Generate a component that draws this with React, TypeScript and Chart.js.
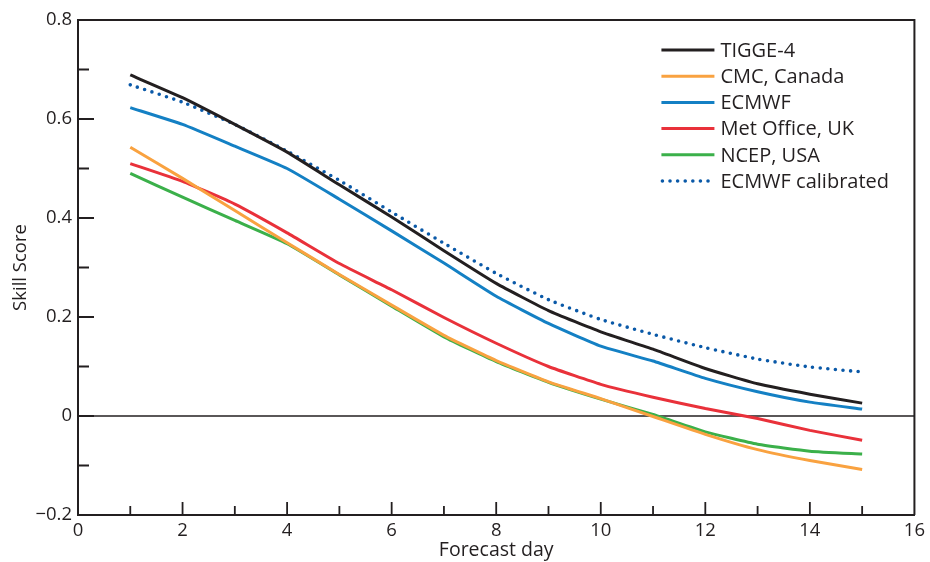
import React, { useEffect, useRef } from "react";
import { Chart, registerables } from "chart.js";

Chart.register(...registerables);

const days = [1, 2, 3, 4, 5, 6, 7, 8, 9, 10, 11, 12, 13, 14, 15];
const tigge4 = [0.689, 0.643, 0.589, 0.533, 0.467, 0.402, 0.334, 0.268, 0.213, 0.17, 0.135, 0.096, 0.065, 0.044, 0.026];
const cmcCanada = [0.543, 0.48, 0.415, 0.35, 0.286, 0.224, 0.163, 0.112, 0.069, 0.035, -0.001, -0.037, -0.068, -0.09, -0.108];
const ecmwf = [0.623, 0.589, 0.545, 0.5, 0.438, 0.374, 0.309, 0.242, 0.187, 0.141, 0.111, 0.076, 0.049, 0.028, 0.014];
const metOffice = [0.51, 0.474, 0.428, 0.37, 0.308, 0.255, 0.199, 0.147, 0.1, 0.064, 0.038, 0.015, -0.005, -0.029, -0.049];
const ncepUsa = [0.49, 0.442, 0.395, 0.348, 0.285, 0.222, 0.16, 0.11, 0.068, 0.034, 0.003, -0.032, -0.057, -0.071, -0.077];
const ecmwfCalibrated = [0.669, 0.634, 0.589, 0.535, 0.476, 0.412, 0.349, 0.288, 0.235, 0.195, 0.165, 0.138, 0.115, 0.099, 0.089];

const seriesLabels = ["TIGGE-4", "CMC, Canada", "ECMWF", "Met Office, UK", "NCEP, USA", "ECMWF calibrated"];
const seriesValues = [tigge4, cmcCanada, ecmwf, metOffice, ncepUsa, ecmwfCalibrated];
const seriesColors = ["#231f20", "#f9a240", "#1480c4", "#e9313a", "#3bb04a", "#0a59a8"];

const xTitle = "Forecast day";
const yTitle = "Skill Score";

const INK = "#231f20";
const FONT = "'Open Sans', 'Noto Sans', sans-serif";

const fmtY = (v: number) => {
  const r = Math.round(v * 10) / 10;
  if (Math.abs(r) < 1e-9) return "0";
  return r < 0 ? "\u2212" + Math.abs(r).toFixed(1) : r.toFixed(1);
};

const framePlugin = {
  id: "frame",
  beforeDatasetsDraw(chart: any) {
    const { ctx, chartArea, scales } = chart;
    const y0 = scales.y.getPixelForValue(0);
    ctx.save();
    ctx.strokeStyle = INK;
    ctx.lineWidth = 1.6;
    ctx.beginPath();
    ctx.moveTo(chartArea.left, y0);
    ctx.lineTo(chartArea.right, y0);
    ctx.stroke();
    ctx.restore();
  },
  afterDraw(chart: any) {
    const { ctx, chartArea, scales } = chart;
    const { left, right, top, bottom } = chartArea;
    ctx.save();
    ctx.strokeStyle = INK;
    ctx.lineWidth = 2;
    ctx.beginPath();
    ctx.moveTo(left, top);
    ctx.lineTo(right, top);
    ctx.lineTo(right, bottom);
    ctx.stroke();
    // inward ticks
    ctx.lineWidth = 1.8;
    ctx.beginPath();
    for (let d = 1; d < 16; d++) {
      const px = scales.x.getPixelForValue(d);
      const len = d % 2 === 0 ? 13 : 9;
      ctx.moveTo(px, bottom);
      ctx.lineTo(px, bottom - len);
    }
    for (let k = -1; k <= 7; k++) {
      const v = k / 10;
      const py = scales.y.getPixelForValue(v);
      const len = k % 2 === 0 ? 16 : 11;
      ctx.moveTo(left, py);
      ctx.lineTo(left + len, py);
    }
    ctx.stroke();
    // legend
    const lx0 = right - 253;
    const lx1 = right - 200;
    const tx = right - 194;
    chart.data.datasets.forEach((ds: any, i: number) => {
      const ry = top + 30 + i * 26.2;
      ctx.save();
      ctx.strokeStyle = ds.borderColor;
      ctx.lineWidth = ds.borderWidth;
      ctx.lineCap = ds.borderCapStyle || "butt";
      ctx.setLineDash(ds.borderDash || []);
      ctx.beginPath();
      ctx.moveTo(ds.borderDash ? lx0 + 1 : lx0, ry);
      ctx.lineTo(lx1, ry);
      ctx.stroke();
      ctx.restore();
      ctx.fillStyle = INK;
      ctx.font = `20px ${FONT}`;
      ctx.textAlign = "left";
      ctx.textBaseline = "middle";
      ctx.fillText(ds.label, tx, ry + 1);
    });
    ctx.restore();
  },
};

export default function App() {
  const ref = useRef<HTMLCanvasElement | null>(null);
  useEffect(() => {
    if (!ref.current) return;
    const datasets = seriesLabels.map((label, i) => {
      const dotted = i === 5;
      return {
        label,
        data: days.map((d, j) => ({ x: d, y: seriesValues[i][j] })),
        borderColor: seriesColors[i],
        backgroundColor: seriesColors[i],
        borderWidth: dotted ? 3.6 : 3,
        borderDash: dotted ? [0, 7.6] : undefined,
        borderCapStyle: dotted ? "round" : "butt",
        pointRadius: 0,
        tension: 0.15,
        fill: false,
      } as any;
    });
    const chart = new Chart(ref.current, {
      type: "line",
      data: { datasets },
      options: {
        responsive: true,
        maintainAspectRatio: false,
        animation: false,
        layout: { padding: { top: 20, right: 14, left: 0, bottom: 0 } },
        plugins: { legend: { display: false }, tooltip: { enabled: false } },
        scales: {
          x: {
            type: "linear",
            min: 0,
            max: 16,
            ticks: { stepSize: 2, color: INK, font: { family: FONT, size: 18.5 }, padding: 5, maxRotation: 0 },
            grid: { display: false, drawTicks: false },
            border: { display: true, color: INK, width: 2 },
            title: { display: true, text: xTitle, color: INK, font: { family: FONT, size: 19.5 }, padding: { top: 0, bottom: 0 } },
            afterFit: (s: any) => {
              s.height = 47;
            },
          },
          y: {
            type: "linear",
            min: -0.2,
            max: 0.8,
            ticks: { stepSize: 0.2, color: INK, font: { family: FONT, size: 18.5 }, padding: 6, callback: (v: any) => fmtY(Number(v)) },
            grid: { display: false, drawTicks: false },
            border: { display: true, color: INK, width: 2 },
            title: { display: true, text: yTitle, color: INK, font: { family: FONT, size: 18.5 }, padding: { top: 10, bottom: 0 } },
            afterFit: (s: any) => {
              s.width = 78;
            },
          },
        },
      },
      plugins: [framePlugin],
    });
    return () => chart.destroy();
  }, []);
  return (
    <div style={{ position: "fixed", left: 0, top: 0, width: 930, height: 562, background: "#fff" }}>
      <canvas ref={ref} />
    </div>
  );
}
